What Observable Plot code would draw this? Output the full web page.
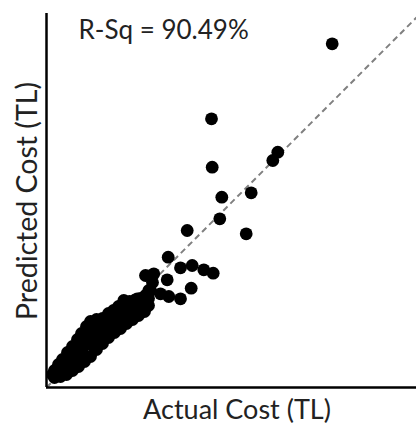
<!DOCTYPE html>
<html>
<head>
<meta charset="utf-8">
<script src="https://cdn.jsdelivr.net/npm/d3@7"></script>
<script src="https://cdn.jsdelivr.net/npm/@observablehq/plot@0.6"></script>
<style>
  html, body { margin: 0; padding: 0; background: #fff; }
  #chart { width: 416px; height: 423px; }
</style>
</head>
<body>
<div id="chart"></div>
<script>
// Actual vs predicted project cost (TL), one entry per project
const actual = [
  2857, 1650, 1657, 2313, 2263, 2047, 1753, 1733, 1997, 1407,
  1217, 1340, 1457, 1573, 1667, 1207, 1447, 1340, 1223, 1140,
  1073, 990, 1023, 907, 773, 1060,
  80, 140, 200, 260, 320, 380, 440, 500, 560, 620, 680, 740, 800, 860, 920, 980, 1020,
  80, 120, 160, 210, 260, 310, 350, 400, 440, 500, 560, 620, 670, 720, 770, 830, 880, 940, 990, 1040,
  140, 200, 260, 300, 360, 420, 460, 500, 540, 600, 660, 720, 780, 840, 900, 960, 1000,
  380, 440, 580, 640, 700, 520, 480, 340, 240, 180, 740, 820, 900, 1020, 60
];
const predicted = [
  3437, 2687, 2203, 2353, 2270, 1947, 1903, 1687, 1537, 1570,
  1303, 1197, 1220, 1177, 1143, 1077, 993, 887, 910, 937,
  1137, 1120, 970, 887, 870, 1050,
  100, 110, 130, 170, 210, 260, 310, 380, 440, 500, 550, 590, 640, 680, 720, 760, 820,
  170, 230, 280, 350, 410, 480, 540, 610, 660, 680, 690, 740, 770, 810, 840, 860, 870, 890, 920, 970,
  190, 240, 290, 350, 390, 440, 510, 560, 600, 620, 670, 690, 740, 770, 800, 830, 870,
  490, 570, 540, 590, 630, 470, 400, 320, 230, 170, 730, 710, 760, 890, 130
];

// Axis extents and the line of perfect prediction
const xExtent = [0, 3700];
const yExtent = [0, 3740];
const diagonal = [0, 3700];

const rSquared = "R-Sq = 90.49%";
const xLabel = "Actual Cost (TL)";
const yLabel = "Predicted Cost (TL)";

const points = actual.map((a, i) => ({actual: a, predicted: predicted[i]}));

const chart = Plot.plot({
  width: 416,
  height: 423,
  marginTop: 13,
  marginRight: 0,
  marginBottom: 36,
  marginLeft: 46,
  style: {fontFamily: "Lato, sans-serif", background: "#fff", color: "#222"},
  x: {domain: xExtent, axis: null},
  y: {domain: yExtent, axis: null},
  marks: [
    Plot.link([diagonal], {
      x1: d => d[0], y1: d => d[0], x2: d => d[1], y2: d => d[1],
      stroke: "#808080", strokeWidth: 2, strokeDasharray: "6,4"
    }),
    Plot.dot(points, {x: "actual", y: "predicted", r: 6.4, fill: "#000", stroke: "none"}),
    Plot.ruleX([0], {stroke: "#000", strokeWidth: 2.5}),
    Plot.ruleY([0], {stroke: "#000", strokeWidth: 2.5}),
    Plot.text([rSquared], {
      frameAnchor: "top-left", textAnchor: "start", lineAnchor: "bottom",
      dx: 32, dy: 25, fontSize: 26, fill: "#222"
    }),
    Plot.text([xLabel], {
      frameAnchor: "bottom", textAnchor: "middle", lineAnchor: "bottom",
      dx: 5.5, dy: 31, fontSize: 27, fill: "#222"
    }),
    Plot.text([yLabel], {
      frameAnchor: "left", textAnchor: "middle", lineAnchor: "bottom",
      rotate: -90, dx: -9.5, dy: 0.5, fontSize: 28.5, fill: "#222"
    })
  ]
});

document.getElementById("chart").appendChild(chart);
</script>
</body>
</html>
